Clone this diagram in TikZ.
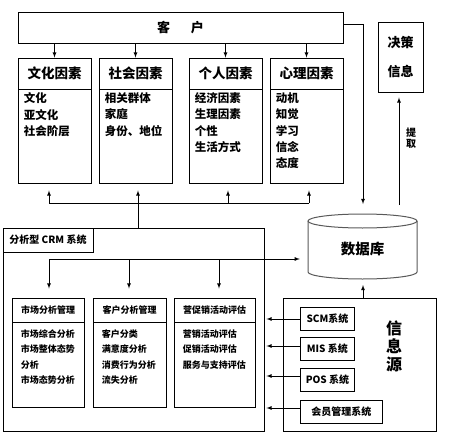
\documentclass[tikz,border=0pt]{standalone}
\usepackage{fontspec}
\setmainfont{Noto Sans CJK SC}
\usepackage{tikz}
\usetikzlibrary{positioning}
\usetikzlibrary{arrows,calc}
\tikzstyle{box}=[rectangle,draw,inner sep=0pt,line width=0.9pt]
\tikzstyle{edge} = [draw,line width=0.8pt,->,>=latex]
\tikzstyle{line} = [draw,line width=0.8pt]
\tikzstyle{items} = [align=left,inner sep=0pt,anchor=north west]
\tikzset{head/.style={box,anchor=north}}

\begin{document}
\begin{tikzpicture}[x=1pt,y=-1pt,font=\bfseries]

 \useasboundingbox (0,0) rectangle (452,444);

 %top
 \node[box,minimum width=325,minimum height=31,font=\bfseries\fontsize{13}{13}\selectfont] (kehu) at (180.5,27.5) {客\hspace{1.6em}户};
 \node[box,minimum width=45,minimum height=70] (jc) at (400.5,57) {};
 \node[font=\bfseries\fontsize{13}{29}\selectfont,align=center] (jctext) at (jc.center) {决策\\信息};

 %factors
 \foreach \x/\name/\head/\list in {54.5/f1/文化因素/{文化\\亚文化\\社会阶层},
    135.5/f2/社会因素/{相关群体\\家庭\\身份、地位},
    225.5/f3/个人因素/{经济因素\\生理因素\\个性\\生活方式},
    306.5/f4/心理因素/{动机\\知觉\\学习\\信念\\态度}}
 {
   \node[box,minimum width=73,minimum height=125] (\name) at (\x,120.5) {};
   \node[head,minimum width=73,minimum height=31,font=\bfseries\fontsize{13.5}{14}\selectfont] (\name h) at (\name.north) {\head};
   \node[items,font=\bfseries\fontsize{11.5}{16.3}\selectfont] (\name l) at ($(\name.north west)+(6,35)$) {\list};
   \path[edge] (\name.north |- kehu.south) -- (\name.north);
 }

 \coordinate (h1) at (49,203);
 \coordinate (h2) at (138,203);
 \coordinate (h3) at (228,203);
 \coordinate (h4) at (309,203);
 \path[line] (h1) -- (h4);
 \foreach \c/\f in {h1/f1, h2/f2, h3/f3, h4/f4}
   \path[edge,shorten >=7pt] (\c) -- (\c |- \f.south);

 %database
 \node[minimum width=109,minimum height=59,inner sep=0pt,font=\bfseries\fontsize{14.5}{14}\selectfont] (db) at (362.5,249) {数据库};
 \draw[black!65,line width=1pt] (308,221) -- (308,272) arc[start angle=180,end angle=360,x radius=54.5pt,y radius=7pt] -- (417,221);
 \draw[black!65,line width=1pt] (362.5,221) ellipse[x radius=54.5pt,y radius=7pt];

 \path[line] (kehu.east |- 0,24) -- (363,24);
 \path[edge] (363,24) -- (363,204);
 \coordinate (tq) at (399,205);
 \path[edge,shorten >=5pt] (tq) -- (tq |- jc.south);
 \node[font=\bfseries\fontsize{10}{11}\selectfont,align=center] (tqtext) at (411,138) {提\\取};

 %CRM
 \node[box,minimum width=261,minimum height=203] (crm) at (133.5,329.5) {};
 \node[box,anchor=north west,minimum width=90,minimum height=24,font=\bfseries\fontsize{10}{10}\selectfont] (crmh) at (crm.north west) {分析型 CRM 系统};
 \path[line] (h2) -- (h2 |- crm.north);

 \foreach \x/\w/\name/\head/\list in {48/72/b1/市场分析管理/{市场综合分析\\市场整体态势\\分析\\市场态势分析},
    129.5/73/b2/客户分析管理/{客户分类\\满意度分析\\消费行为分析\\流失分析},
    214.5/81/b3/营促销活动评估/{营销活动评估\\促销活动评估\\服务与支持评估}}
 {
   \node[box,minimum width=\w,minimum height=109] (\name) at (\x,352.5) {};
   \node[head,minimum width=\w,minimum height=24,font=\bfseries\fontsize{9}{9}\selectfont] (\name h) at (\name.north) {\head};
   \node[items,font=\bfseries\fontsize{9}{15.3}\selectfont] (\name l) at ($(\name.north west)+(9,32)$) {\list};
 }

 \coordinate (g1) at (49,259);
 \coordinate (g2) at (129,259);
 \coordinate (g3) at (219,259);
 \path[edge,shorten >=8pt] (g1) -- (db.west |- g1);
 \foreach \c/\f in {g1/b1, g2/b2, g3/b3}
   \path[edge,shorten >=9pt] (\c) -- (\c |- \f.north);

 %source
 \node[box,minimum width=153,minimum height=133] (src) at (359.5,364.5) {};
 \node[font=\bfseries\fontsize{16}{18}\selectfont,align=center] (srct) at (394,346) {信\\息\\源};
 \foreach \y/\w/\name/\label/\ay in {318.5/54/s1/SCM系统/319, 349/54/s2/MIS 系统/346, 380/54/s3/POS 系统/376, 411.5/82/s4/会员管理系统/408}
 {
   \node[box,anchor=west,minimum width=\w,minimum height=23,font=\bfseries\fontsize{10}{10}\selectfont] (\name) at (300,\y) {\label};
   \path[edge,shorten >=2pt] (\name.west |- 0,\ay) -- (crm.east |- 0,\ay);
 }
 \path[edge,shorten >=6pt] (src.north -| 363,0) -- (363,279);

\end{tikzpicture}
\end{document}
